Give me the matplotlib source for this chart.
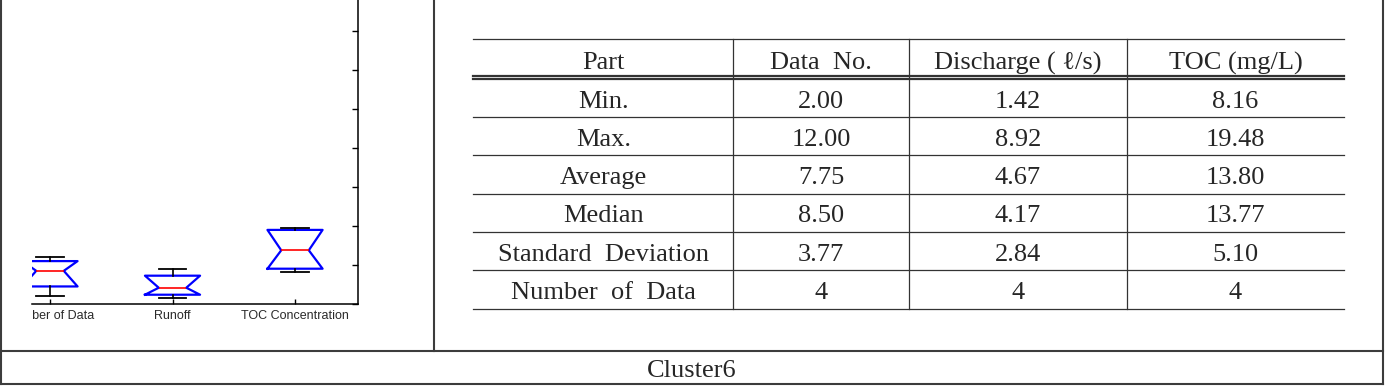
import numpy as np
import matplotlib
matplotlib.use('Agg')
from matplotlib import pyplot as plt
from matplotlib.transforms import Bbox, TransformedBbox

W, H = 1388, 386

# box plot values
box_labels = ['Number of Data', 'Runoff', 'TOC Concentration']
box_min = [2.00, 1.42, 8.16]
box_q1 = [4.50, 2.38, 9.05]
box_med = [8.50, 4.17, 13.77]
box_q3 = [11.00, 7.26, 19.00]
box_max = [12.00, 8.92, 19.48]

# summary table
col_heads = ['Part', 'Data  No.', 'Discharge ( \u2113/s)', 'TOC (mg/L)']
row_heads = ['Min.', 'Max.', 'Average', 'Median', 'Standard  Deviation', 'Number  of  Data']
data_no = [2.00, 12.00, 7.75, 8.50, 3.77, 4]
discharge = [1.42, 8.92, 4.67, 4.17, 2.84, 4]
toc = [8.16, 19.48, 13.80, 13.77, 5.10, 4]
caption = 'Cluster6'

serif = ['Liberation Serif', 'DejaVu Serif']
ink = '#262626'

fig = plt.figure(figsize=(W / 100, H / 100), dpi=100)

# ---- left: notched box plot (cropped on the left like the original) ----
ax = fig.add_axes([32 / W, (H - 304) / H, 325.5 / W, 312 / H])
stats = []
for i in range(len(box_labels)):
    stats.append(dict(med=box_med[i], q1=box_q1[i], q3=box_q3[i],
                      whislo=box_min[i], whishi=box_max[i],
                      cilo=box_q1[i], cihi=box_q3[i], fliers=[]))
ax.bxp(stats, positions=[1, 2, 3], widths=0.45, shownotches=True, showfliers=False,
       boxprops=dict(color='#0000ff', lw=1.6),
       medianprops=dict(color='#ff0000', lw=1.2),
       whiskerprops=dict(color='black', lw=1.2),
       capprops=dict(color='black', lw=1.3))
ax.set_xlim(0.853, 3.51)
ax.set_ylim(0, 80)
ax.set_yticks(np.arange(0, 81, 10))
ax.set_xticks([1, 2, 3], box_labels)
ax.tick_params(axis='y', direction='in', left=False, right=True, labelleft=False, length=4, width=1)
ax.tick_params(axis='x', direction='in', length=3.5, width=1, pad=4, labelsize=9, labelcolor='#2a2a2a')
ax.spines['left'].set_visible(False)
ax.spines['top'].set_visible(False)
for s in ['right', 'bottom']:
    ax.spines[s].set_linewidth(1.1)
clip = TransformedBbox(Bbox.from_extents(31.5 / W, 0, 1, 1), fig.transFigure)
for lbl in ax.get_xticklabels():
    lbl.set_family(['Liberation Sans', 'DejaVu Sans'])
    lbl.set_clip_on(True)
    lbl.set_clip_box(clip)

# ---- overlay in pixel coordinates: frame, table, caption ----
ov = fig.add_axes([0, 0, 1, 1], zorder=5)
ov.set_xlim(0, W)
ov.set_ylim(H, 0)
ov.axis('off')
ov.patch.set_alpha(0)

frame = dict(color='#3c3c3c', lw=1.5)
ov.plot([1, 1], [0, 384.3], **frame)
ov.plot([1383, 1383], [0, 384.3], **frame)
ov.plot([434.5, 434.5], [0, 350.7], **frame)
ov.plot([1, 1383], [350.7, 350.7], **frame)
ov.plot([1, 1383], [384.3, 384.3], **frame)

col_edges = [473.3, 733.3, 908.7, 1126.7, 1344.3]
table_top = 39.3
head_lines = [76.3, 79.4]
body_lines = np.linspace(116.7, 308.7, 6)
line = dict(color='#333333', lw=0.9)

ov.plot([col_edges[0], col_edges[-1]], [table_top, table_top], **line)
for y in head_lines:
    ov.plot([col_edges[0], col_edges[-1]], [y, y], color='#333333', lw=1.6)
for y in body_lines:
    ov.plot([col_edges[0], col_edges[-1]], [y, y], **line)
for x in col_edges[1:-1]:
    ov.plot([x, x], [table_top, body_lines[-1]], **line)

centers = [(col_edges[i] + col_edges[i + 1]) / 2 for i in range(4)]
for j, txt in enumerate(col_heads):
    ov.text(centers[j], 69.3, txt, ha='center', va='baseline', fontsize=19,
            family=serif, color=ink)

tops = [head_lines[1]] + list(body_lines[:-1])
for i, name in enumerate(row_heads):
    yb = (tops[i] + body_lines[i]) / 2 + 9.8
    vals = [data_no[i], discharge[i], toc[i]]
    cells = [name] + [f'{v:.2f}' if i < 5 else f'{v:d}' for v in vals]
    for j, txt in enumerate(cells):
        ov.text(centers[j], yb, txt, ha='center', va='baseline', fontsize=19,
                family=serif, color=ink)

ov.text(692, 377.3, caption, ha='center', va='baseline', fontsize=19,
        family=serif, color=ink)

fig.savefig('out.png', dpi=100)
